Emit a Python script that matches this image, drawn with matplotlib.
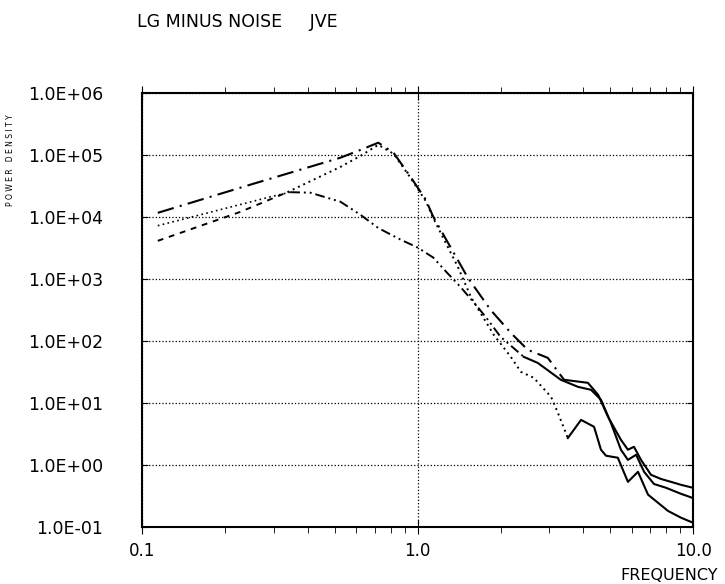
import numpy as np
import matplotlib.pyplot as plt

# curve A: long dash-dot, highest at the right end
freq_a = [0.114, 0.247, 0.525, 0.62, 0.72, 0.818, 0.943, 1.07, 1.14, 1.52, 1.84, 2.18, 2.51,
          2.97, 3.40, 4.15, 4.52, 4.91, 5.47, 5.80, 6.10, 6.47, 7.03, 7.65, 8.32, 9.04, 10.0]
pow_a = [1.16e4, 3.3e4, 9.0e4, 1.2e5, 1.57e5, 1.08e5, 4.4e4, 1.9e4, 1.0e4, 1.05e3, 316, 134, 71.6,
         53, 23.5, 21, 13.5, 5.95, 2.53, 1.75, 1.95, 1.2, 0.69, 0.59, 0.53, 0.475, 0.425]

# curve C: dashed start, joins the main peak, dips near 3.5
freq_c = [0.114, 0.227, 0.337, 0.525, 0.62, 0.72, 0.818, 0.943, 1.07, 1.14, 1.40, 1.56, 1.69, 1.89, 2.18,
          2.37, 2.64, 3.05, 3.23, 3.51, 3.92, 4.37, 4.63, 4.83, 5.33, 5.80, 6.31, 6.86, 8.11, 9.04, 10.0]
pow_c = [4.1e3, 1.2e4, 2.5e4, 6.4e4, 9.6e4, 1.45e5, 1.04e5, 4.25e4, 1.8e4, 9.5e3, 1.56e3, 513, 283, 125, 55,
         31.6, 25.3, 12.5, 6.9, 2.7, 5.3, 4.1, 1.75, 1.4, 1.3, 0.53, 0.77, 0.33, 0.18, 0.14, 0.116]

# curve D: dotted start, low peak near 0.35
freq_d = [0.114, 0.292, 0.345, 0.408, 0.525, 0.62, 0.72, 0.866, 1.0, 1.14, 1.28, 1.43, 1.65, 1.80,
          2.0, 2.43, 2.73, 3.31, 3.82, 4.26, 4.63, 5.03, 5.47, 5.80, 6.21, 6.64, 7.21, 7.98, 9.04, 10.0]
pow_d = [7.2e3, 2.1e4, 2.5e4, 2.45e4, 1.75e4, 1.08e4, 6.6e3, 4.3e3, 3.2e3, 2.2e3, 1.25e3, 743, 353, 218,
         116, 55, 44, 23.5, 18.1, 16.2, 11.2, 4.75, 1.75, 1.2, 1.45, 0.77, 0.49, 0.425, 0.34, 0.29]

ytick_vals = [1e-1, 1e0, 1e1, 1e2, 1e3, 1e4, 1e5, 1e6]
ytick_labels = ['1.0E-01', '1.0E+00', '1.0E+01', '1.0E+02', '1.0E+03', '1.0E+04', '1.0E+05', '1.0E+06']
xtick_vals = [0.1, 1.0, 10.0]
xtick_labels = ['0.1', '1.0', '10.0']

fig = plt.figure(figsize=(7.25, 5.84), dpi=100)
ax = fig.add_axes([0.196, 0.098, 0.760, 0.743])

def seg(f, p, lo, hi, **kw):
    f = np.array(f); p = np.array(p)
    m = (f >= lo) & (f <= hi)
    ax.plot(f[m], p[m], color='black', **kw)

seg(freq_a, pow_a, 0, 3.4, lw=1.5, ls=(0, (8, 3, 1, 3)))
seg(freq_a, pow_a, 3.4, 11, lw=1.5, ls='-')
seg(freq_c, pow_c, 0, 0.34, lw=1.4, ls=(0, (3, 3)))
seg(freq_c, pow_c, 0.337, 3.6, lw=1.4, ls=(0, (1, 2)))
seg(freq_c, pow_c, 3.5, 11, lw=1.5, ls='-')
seg(freq_d, pow_d, 0, 0.35, lw=1.2, ls=(0, (1, 2)))
seg(freq_d, pow_d, 0.345, 2.5, lw=1.4, ls=(0, (5, 2, 1, 2, 1, 2)))
seg(freq_d, pow_d, 2.43, 11, lw=1.5, ls='-')

ax.set_xscale('log')
ax.set_yscale('log')
ax.set_xlim(0.1, 10)
ax.set_ylim(1e-1, 1e6)

ax.set_yticks(ytick_vals)
ax.set_yticklabels(ytick_labels, fontsize=12.5)
ax.yaxis.set_minor_locator(plt.NullLocator())
ax.set_xticks(xtick_vals)
ax.set_xticklabels(xtick_labels, fontsize=12)

ax.tick_params(axis='x', which='major', direction='inout', length=10, top=True, pad=6)
ax.tick_params(axis='x', which='minor', direction='out', length=4, top=True, labelbottom=False)
ax.tick_params(axis='y', which='major', direction='in', length=4, right=True, pad=28)

for s in ax.spines.values():
    s.set_linewidth(1.5)

ax.grid(True, which='major', linestyle=':', color='black', linewidth=0.9)

fig.text(0.189, 0.962, 'LG MINUS NOISE     JVE', fontsize=12.5, va='center')
fig.text(0.014, 0.726, 'P O W E R   D E N S I T Y', fontsize=5.5, rotation=90, va='center', ha='center')
fig.text(0.99, 0.015, 'FREQUENCY', fontsize=11.5, ha='right', va='center')

fig.savefig('out.png', dpi=100)
